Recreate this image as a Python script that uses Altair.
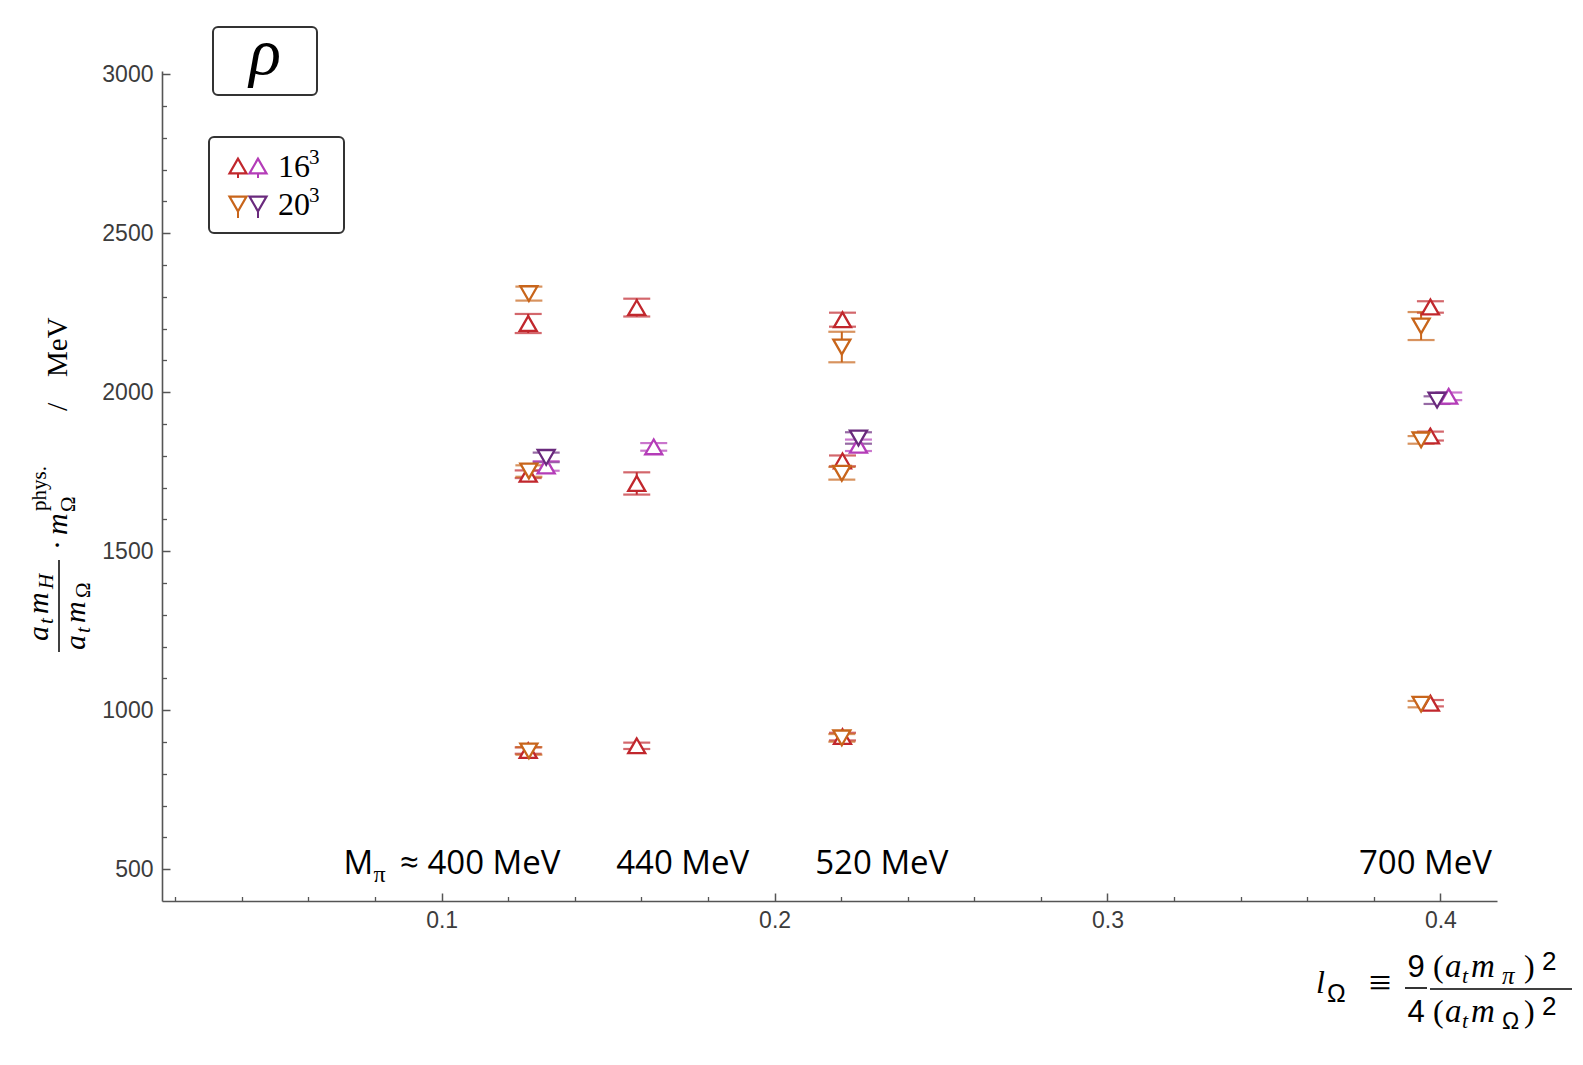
import altair as alt
import pandas as pd

# ---------------- data ----------------
# 16^3, first set (red, up triangles)
red_x = [0.1260, 0.1260, 0.1260, 0.1586, 0.1586, 0.1586, 0.2204, 0.2204, 0.2204, 0.3970, 0.3970, 0.3970]
red_y = [2216, 1742, 873, 2266, 1713, 888, 2228, 1784, 917, 2268, 1862, 1022]
red_err = [30, 12, 10, 28, 35, 10, 22, 17, 12, 18, 14, 10]
# 20^3, first set (orange, down triangles)
orange_x = [0.1262, 0.1262, 0.1262, 0.2202, 0.2202, 0.2202, 0.3942, 0.3942, 0.3942]
orange_y = [2310, 1752, 872, 2142, 1745, 913, 2208, 1850, 1019]
orange_err = [22, 18, 12, 48, 20, 12, 44, 12, 10]
# 16^3, second set (magenta, up triangles)
magenta_x = [0.1314, 0.1637, 0.2252, 0.4025]
magenta_y = [1768, 1828, 1833, 1987]
magenta_err = [15, 12, 18, 12]
# 20^3, second set (purple, down triangles)
purple_x = [0.1314, 0.2252, 0.3990]
purple_y = [1795, 1856, 1975]
purple_err = [15, 18, 12]

series_names = ["16a", "20a", "16b", "20b"]
series_colors = ["#c1272d", "#c8651b", "#b43cb8", "#6a2a7d"]
series_shapes = ["triangle-up", "triangle-down", "triangle-up", "triangle-down"]

x_major = [0.1, 0.2, 0.3, 0.4]
x_minor = [0.02, 0.04, 0.06, 0.08, 0.12, 0.14, 0.16, 0.18, 0.22, 0.24, 0.26, 0.28,
           0.32, 0.34, 0.36, 0.38]
y_major = [500, 1000, 1500, 2000, 2500, 3000]
y_minor = [600, 700, 800, 900, 1100, 1200, 1300, 1400, 1600, 1700, 1800, 1900,
           2100, 2200, 2300, 2400, 2600, 2700, 2800, 2900]

mass_labels = ["440 MeV", "520 MeV", "700 MeV"]
mass_label_x = [0.1724, 0.2322, 0.3955]
mass_label_y = [484, 484, 484]

# ---------------- build table ----------------
rows = []
for name, xs_, ys_, es_ in [("16a", red_x, red_y, red_err),
                            ("20a", orange_x, orange_y, orange_err),
                            ("16b", magenta_x, magenta_y, magenta_err),
                            ("20b", purple_x, purple_y, purple_err)]:
    for xv, yv, ev in zip(xs_, ys_, es_):
        rows.append({"series": name, "x": xv, "y": yv, "lo": yv - ev, "hi": yv + ev})
df = pd.DataFrame(rows)

W, H = 1335, 830
xsc = alt.Scale(domain=[0.016, 0.417], nice=False, zero=False)
ysc = alt.Scale(domain=[400, 3010], nice=False, zero=False)
csc = alt.Scale(domain=series_names, range=series_colors)
ssc = alt.Scale(domain=series_names, range=series_shapes)

AX = dict(title=None, grid=False, domainColor="#555555", tickColor="#555555",
          labelColor="#3c3c3c", labelFont="Liberation Sans", labelFontSize=23)

x_main = alt.Axis(orient="bottom", values=x_major, format=".1f", ticks=False, tickSize=0,
                  domain=True, domainWidth=1.6, labelPadding=8, **AX)
y_main = alt.Axis(orient="left", values=y_major, format="d", ticks=False, tickSize=0,
                  domain=True, domainWidth=1.6, labelPadding=9, **AX)
x_maj_t = alt.Axis(orient="top", offset=-H, values=x_major, labels=False, domain=False,
                   ticks=True, tickSize=8, tickWidth=1.5, **AX)
y_maj_t = alt.Axis(orient="right", offset=-W, values=y_major, labels=False, domain=False,
                   ticks=True, tickSize=8, tickWidth=1.5, **AX)
x_min_t = alt.Axis(orient="top", offset=-H, values=x_minor, labels=False, domain=False,
                   ticks=True, tickSize=4.5, tickWidth=1.3, **AX)
y_min_t = alt.Axis(orient="right", offset=-W, values=y_minor, labels=False, domain=False,
                   ticks=True, tickSize=4.5, tickWidth=1.3, **AX)

base = alt.Chart(df)

bars = base.mark_rule(strokeWidth=2).encode(
    x=alt.X("x:Q", scale=xsc, axis=x_main),
    y=alt.Y("lo:Q", scale=ysc, axis=y_main),
    y2="hi:Q",
    color=alt.Color("series:N", scale=csc, legend=None),
)
caps_lo = base.mark_tick(orient="horizontal", size=27, thickness=2.2).encode(
    x=alt.X("x:Q", scale=xsc, axis=x_maj_t),
    y=alt.Y("lo:Q", scale=ysc, axis=y_maj_t),
    color=alt.Color("series:N", scale=csc, legend=None),
)
caps_hi = base.mark_tick(orient="horizontal", size=27, thickness=2.2).encode(
    x=alt.X("x:Q", scale=xsc, axis=None),
    y=alt.Y("hi:Q", scale=ysc, axis=None),
    color=alt.Color("series:N", scale=csc, legend=None),
)
points = base.mark_point(filled=True, fill="white", size=290, strokeWidth=2.3, opacity=1).encode(
    x=alt.X("x:Q", scale=xsc, axis=x_min_t),
    y=alt.Y("y:Q", scale=ysc, axis=y_min_t),
    stroke=alt.Stroke("series:N", scale=csc, legend=None),
    shape=alt.Shape("series:N", scale=ssc, legend=None),
)

# mass labels (data coordinates)
LABF = "Open Sans"
lab_df = pd.DataFrame({"label": mass_labels, "x": mass_label_x, "y": mass_label_y})
mass = alt.Chart(lab_df).mark_text(font=LABF, fontSize=33, align="center",
                                   baseline="alphabetic", color="black").encode(
    x=alt.X("x:Q", scale=xsc, axis=None), y=alt.Y("y:Q", scale=ysc, axis=None),
    text="label:N")
first_df = pd.DataFrame({"label": ["M", "π", "≈ 400 MeV"], "x": [0.0705, 0.0795, 0.1357],
                         "y": [484, 484, 484]})
m_lab = alt.Chart(first_df.iloc[[0]]).mark_text(font=LABF, fontSize=33, align="left",
                                                 baseline="alphabetic", color="black").encode(
    x=alt.X("x:Q", scale=xsc, axis=None), y=alt.Y("y:Q", scale=ysc, axis=None), text="label:N")
pi_lab = alt.Chart(first_df.iloc[[1]]).mark_text(font="Liberation Serif", fontSize=24, align="left",
                                                  baseline="alphabetic", dy=8, color="black").encode(
    x=alt.X("x:Q", scale=xsc, axis=None), y=alt.Y("y:Q", scale=ysc, axis=None), text="label:N")
rest_lab = alt.Chart(first_df.iloc[[2]]).mark_text(font=LABF, fontSize=33, align="right",
                                                    baseline="alphabetic", color="black").encode(
    x=alt.X("x:Q", scale=xsc, axis=None), y=alt.Y("y:Q", scale=ysc, axis=None), text="label:N")

one = pd.DataFrame({"t": [""]})


def ptext(s, x, y, size, font="Liberation Serif", style="normal", angle=0, align="left",
          baseline="alphabetic"):
    return alt.Chart(pd.DataFrame({"t": [s]})).mark_text(
        x=x, y=y, fontSize=size, font=font, fontStyle=style, angle=angle, align=align,
        baseline=baseline, color="black").encode(text="t:N")


def prule(x, y, x2, y2, w=1.6, color="black"):
    return alt.Chart(one).mark_rule(strokeWidth=w, color=color).encode(
        x=alt.value(x), y=alt.value(y), x2=alt.value(x2), y2=alt.value(y2))


def pbox(x, y, x2, y2):
    return alt.Chart(one).mark_rect(fill="white", stroke="#333333", strokeWidth=2,
                                    cornerRadius=5).encode(
        x=alt.value(x), y=alt.value(y), x2=alt.value(x2), y2=alt.value(y2))


def ptri(x, y, shape, color):
    return alt.Chart(one).mark_point(shape=shape, filled=True, fill="white", stroke=color,
                                     strokeWidth=2.2, size=290, opacity=1).encode(
        x=alt.value(x), y=alt.value(y))


SER = "Liberation Serif"
SANS = "Liberation Sans"
I = "italic"

# y-axis title (rotated pieces)
ytitle = [
    ptext("a", -114, 570, 30, SER, I, 270),
    ptext("t", -109, 553, 21, SER, I, 270),
    ptext("m", -114, 543, 30, SER, I, 270),
    ptext("H", -109, 518, 21, SER, I, 270),
    prule(-103, 489, -103, 581, 1.5),
    ptext("a", -77, 579, 30, SER, I, 270),
    ptext("t", -72, 562, 21, SER, I, 270),
    ptext("m", -77, 552, 30, SER, I, 270),
    ptext("Ω", -72, 527, 21, SER, "normal", 270),
    ptext("·", -95, 479, 30, SER, "normal", 270),
    ptext("m", -95, 464, 30, SER, I, 270),
    ptext("phys.", -116, 440, 21, SER, "normal", 270),
    ptext("Ω", -87, 441, 21, SER, "normal", 270),
    ptext("/", -95, 340, 30, SER, "normal", 270),
    ptext("MeV", -95, 306, 29, SER, "normal", 270),
]

# x-axis title pieces
xtitle = [
    ptext("l", 1154, 922, 32, SER, I),
    ptext("Ω", 1165, 931, 25, SANS),
    ptext("≡", 1218, 925, 40, SER, "normal", 0, "center"),
    ptext("9", 1254, 906, 31, SANS, "normal", 0, "center"),
    prule(1243, 917, 1265, 917, 1.6),
    ptext("4", 1254, 951, 31, SANS, "normal", 0, "center"),
    prule(1268, 918, 1410, 918, 1.6),
    ptext("(", 1271, 906, 32, SER),
    ptext("a", 1283, 906, 33, SER, I),
    ptext("t", 1300, 912, 22, SER, I),
    ptext("m", 1309, 906, 33, SER, I),
    ptext("π", 1340, 913, 25, SER, I),
    ptext(")", 1362, 906, 32, SER),
    ptext("2", 1380, 899, 26, SANS),
    ptext("(", 1271, 951, 32, SER),
    ptext("a", 1283, 951, 33, SER, I),
    ptext("t", 1300, 957, 22, SER, I),
    ptext("m", 1309, 951, 33, SER, I),
    ptext("Ω", 1340, 958, 23, SANS),
    ptext(")", 1362, 951, 32, SER),
    ptext("2", 1380, 944, 26, SANS),
]

# rho box and legend box
deco = [
    pbox(51, -44, 155, 24),
    ptext("ρ", 103, 3, 66, SER, I, 0, "center"),
    pbox(47, 66, 182, 162),
    prule(76, 95, 76, 107, 2, series_colors[0]),
    prule(96, 95, 96, 107, 2, series_colors[2]),
    prule(76, 133, 76, 147, 2, series_colors[1]),
    prule(96, 133, 96, 147, 2, series_colors[3]),
    ptri(76, 95, "triangle-up", series_colors[0]),
    ptri(96, 95, "triangle-up", series_colors[2]),
    ptri(76, 133, "triangle-down", series_colors[1]),
    ptri(96, 133, "triangle-down", series_colors[3]),
    ptext("16", 116, 106, 32, SER),
    ptext("3", 147, 93, 21, SER),
    ptext("20", 116, 144, 32, SER),
    ptext("3", 147, 131, 21, SER),
]

chart = alt.layer(
    bars, caps_lo, caps_hi, points, mass, m_lab, pi_lab, rest_lab, *ytitle, *xtitle, *deco
).resolve_axis(x="independent", y="independent").properties(
    width=W, height=H,
    padding={"left": 154, "top": 63, "right": 78, "bottom": 156},
    autosize=alt.AutoSizeParams(type="none"),
    background="white",
).configure_view(stroke=None)

chart.save("out.html", embed_options={"renderer": "svg", "actions": False})
